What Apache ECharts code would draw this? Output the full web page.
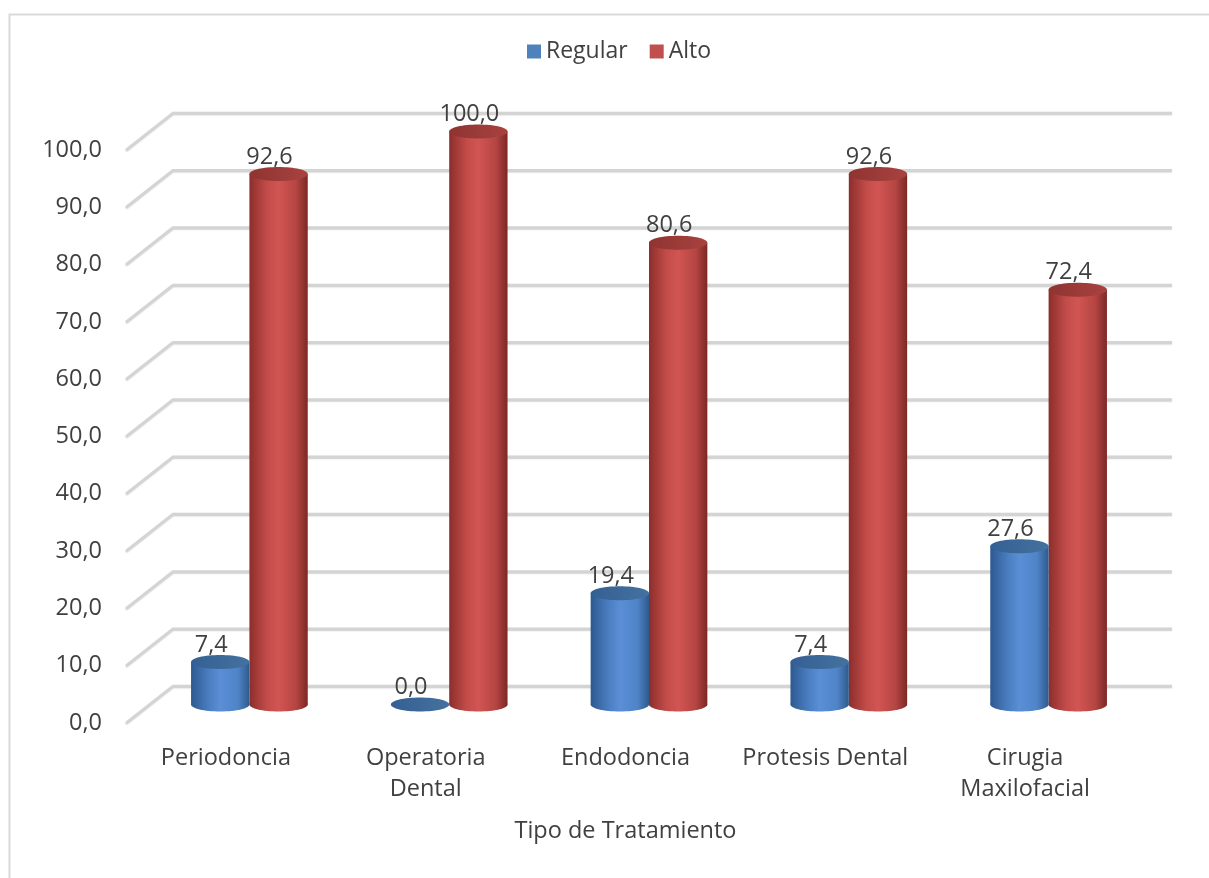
<!DOCTYPE html>
<html>
<head>
<meta charset="utf-8">
<script src="https://cdn.jsdelivr.net/npm/echarts@6/dist/echarts.min.js"></script>
<style>html,body{margin:0;padding:0;background:#fff}#chart{width:1209px;height:878px}</style>
</head>
<body>
<div id="chart"></div>
<script>
const categories = ['Periodoncia', 'Operatoria\nDental', 'Endodoncia', 'Protesis Dental', 'Cirugia\nMaxilofacial'];
const regular = [7.4, 0.0, 19.4, 7.4, 27.6];
const alto = [92.6, 100.0, 80.6, 92.6, 72.4];
const yTicks = [0, 10, 20, 30, 40, 50, 60, 70, 80, 90, 100];

const FONT = 'Open Sans';
const FS = 23.5;
const TXT = '#404040';
const DEPTH_X = 47, DEPTH_Y = -37;
const fmt = v => v.toFixed(1).replace('.', ',');

const palettes = [
  { legend: '#4F81BD',
    body: ['#2D5990', '#4A7DC0', '#5A8FD6', '#4F84C8', '#2E5A8C'],
    top: ['#345F93', '#44729F'] },
  { legend: '#C0504D',
    body: ['#8C2E2C', '#C24C49', '#D15553', '#B54542', '#7C2826'],
    top: ['#8F3431', '#A8423F'] }
];

function grad(c) {
  return { type: 'linear', x: 0, y: 0, x2: 1, y2: 0,
    colorStops: [
      { offset: 0, color: c[0] }, { offset: 0.3, color: c[1] },
      { offset: 0.5, color: c[2] }, { offset: 0.8, color: c[3] },
      { offset: 1, color: c[4] }] };
}

function cylinderRenderer(si) {
  return function (params, api) {
    const idx = api.value(0), val = api.value(1);
    const top = api.coord([idx, val]);
    const base = api.coord([idx, 0]);
    const band = api.size([1, 0])[0];
    const rx = band * 0.146, ry = 7;
    const cx = top[0] + DEPTH_X / 2 + (si === 0 ? -rx : rx);
    const yT = top[1] + DEPTH_Y / 2, yB = base[1] + DEPTH_Y / 2;
    const pal = palettes[si];
    const children = [];
    if (yB - yT > 0.5) {
      children.push({ type: 'ellipse', shape: { cx: cx, cy: yB, rx: rx, ry: ry }, style: { fill: grad(pal.body) } });
      children.push({ type: 'rect', shape: { x: cx - rx, y: yT, width: 2 * rx, height: yB - yT }, style: { fill: grad(pal.body) } });
    }
    children.push({ type: 'ellipse', shape: { cx: cx, cy: yT, rx: rx, ry: ry },
      style: { fill: { type: 'linear', x: 0, y: 0, x2: 1, y2: 0, colorStops: [{ offset: 0, color: pal.top[0] }, { offset: 1, color: pal.top[1] }] } } });
    children.push({ type: 'text', x: cx - 9, y: yT - 5,
      style: { text: fmt(val), align: 'center', verticalAlign: 'bottom', fontSize: FS, fontFamily: FONT, fill: TXT } });
    return { type: 'group', children: children };
  };
}

function gridRenderer(params, api) {
  const y = api.coord([0, api.value(1)])[1];
  const cs = params.coordSys;
  const l = cs.x, r = cs.x + cs.width;
  return { type: 'polyline',
    shape: { points: [[l, y], [l + DEPTH_X, y + DEPTH_Y], [r + DEPTH_X, y + DEPTH_Y]] },
    style: { stroke: '#d4d4d4', lineWidth: 2.5, fill: null,
      shadowColor: 'rgba(0,0,0,0.2)', shadowBlur: 1.5, shadowOffsetY: 1 } };
}

const chart = echarts.init(document.getElementById('chart'), null, { renderer: 'canvas' });
chart.setOption({
  animation: false,
  backgroundColor: '#fff',
  graphic: [{ type: 'rect', left: 7, top: 12, shape: { width: 1300, height: 1000 },
    style: { fill: null, stroke: '#d9d9d9', lineWidth: 2 }, silent: true }],
  legend: {
    top: 35, left: 522, itemWidth: 14, itemHeight: 14, itemGap: 22, icon: 'rect',
    textStyle: { fontSize: 23, fontFamily: FONT, color: TXT },
    data: ['Regular', 'Alto']
  },
  grid: { left: 126, right: 84, top: 150, bottom: 155 },
  xAxis: {
    type: 'category', data: categories,
    axisLine: { show: false }, axisTick: { show: false }, splitLine: { show: false },
    axisLabel: { fontSize: FS, fontFamily: FONT, color: TXT, lineHeight: 31, margin: 20, interval: 0 },
    name: 'Tipo de Tratamiento', nameLocation: 'middle', nameGap: 96,
    nameTextStyle: { fontSize: FS, fontFamily: FONT, color: TXT }
  },
  yAxis: {
    type: 'value', min: 0, max: 100, interval: 10,
    axisLine: { show: false }, axisTick: { show: false }, splitLine: { show: false },
    axisLabel: { fontSize: FS, fontFamily: FONT, color: TXT, margin: 24, formatter: v => fmt(v) }
  },
  series: [
    { type: 'custom', name: 'grid3d', silent: true, z: 1, renderItem: gridRenderer,
      data: yTicks.map(v => [0, v]), encode: { x: 0, y: 1 } },
    { type: 'custom', name: 'Regular', z: 3, renderItem: cylinderRenderer(0),
      itemStyle: { color: palettes[0].legend },
      data: regular.map((v, i) => [i, v]), encode: { x: 0, y: 1 } },
    { type: 'custom', name: 'Alto', z: 2, renderItem: cylinderRenderer(1),
      itemStyle: { color: palettes[1].legend },
      data: alto.map((v, i) => [i, v]), encode: { x: 0, y: 1 } }
  ]
});
</script>
</body>
</html>
